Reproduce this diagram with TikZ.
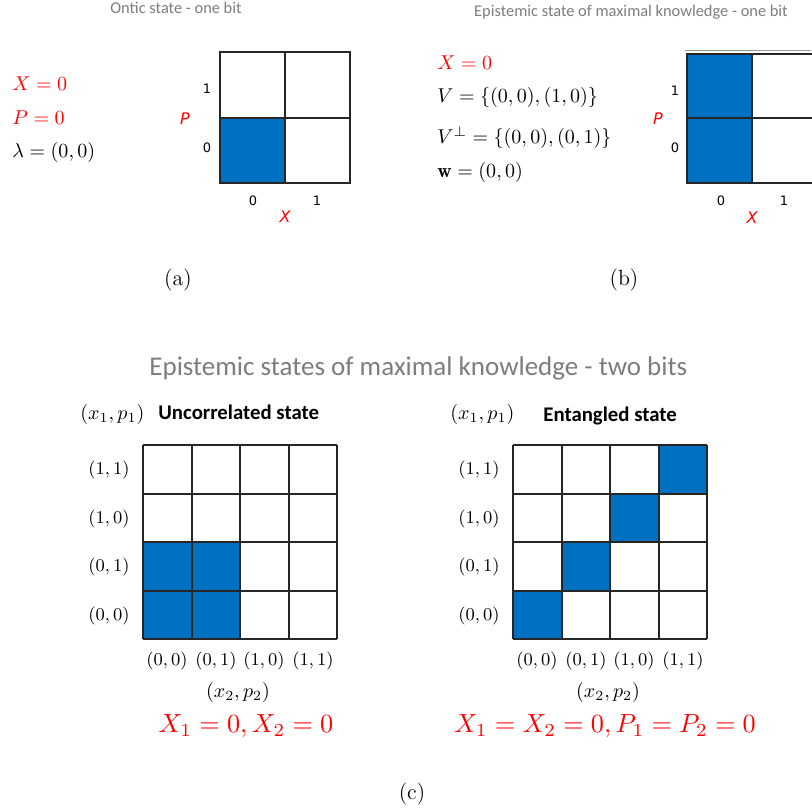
\documentclass[tikz,border=0pt]{standalone}
\usepackage{graphicx}
\usepackage{fontspec}
\newfontfamily\carlito{Carlito}
\newfontfamily\dejavu{DejaVu Sans}
\definecolor{cblue}{RGB}{0,112,192}
\definecolor{cred}{RGB}{255,0,0}
\definecolor{tgrey}{RGB}{125,125,125}
\newcommand{\bigmath}[1]{\scalebox{1.31}{$#1$}}
\tikzset{
  title/.style={font=\carlito\fontsize{8.2}{10}\selectfont, text=tgrey, anchor=base, inner sep=0pt},
  bigtitle/.style={font=\carlito\fontsize{13.5}{16}\selectfont, text=tgrey, anchor=base west, inner sep=0pt},
  sub/.style={font=\carlito\bfseries\fontsize{10.4}{12}\selectfont, anchor=base west, inner sep=0pt},
  redmath/.style={text=cred, anchor=west, inner sep=0pt},
  blkmath/.style={anchor=west, inner sep=0pt},
  dig/.style={font=\dejavu\fontsize{6.5}{7.5}\selectfont, inner sep=0pt},
  axis/.style={font=\dejavu\itshape\fontsize{8}{9}\selectfont, text=cred, inner sep=0pt},
  cellfill/.style={fill=cblue},
  gridline/.style={line width=0.8pt, draw=black!85},
  gridlineb/.style={line width=1pt, draw=black!85},
  lab/.style={font=\fontsize{9}{10}\selectfont, inner sep=0pt},
  captext/.style={font=\fontsize{11}{13}\selectfont, inner sep=0pt},
  bigred/.style={text=cred, inner sep=0pt}
}
\begin{document}
\begin{tikzpicture}[x=0.5pt,y=-0.5pt]
\useasboundingbox (0,0) rectangle (811,812);

% ---------- (a) ----------
\node[title] (ta) at (176,13.5) {Ontic state - one bit};
\node[redmath] (ax) at (12,84) {$X=0$};
\node[redmath] (ap) at (12,118) {$P=0$};
\node[blkmath] (al) at (12,153) {$\lambda=(0,0)$};
\fill[cellfill] (220,118) rectangle (285,183);
\draw[gridline] (220,52) rectangle (350,183);
\draw[gridline] (285,52) -- (285,183);
\draw[gridline] (220,118) -- (350,118);
\node[dig] (a1) at (207,89) {1};
\node[dig] (a0) at (207,148) {0};
\node[axis] (aP) at (185,119) {P};
\node[dig] (ac0) at (253,201) {0};
\node[dig] (ac1) at (317,201) {1};
\node[axis] (aX) at (285,217) {X};
\node[captext] (capa) at (178,280) {(a)};

% ---------- (b) ----------
\node[title] (tb) at (631,16.7) {Epistemic state of maximal knowledge - one bit};
\node[redmath] (bx) at (437,63) {$X=0$};
\node[blkmath] (bv) at (437,98) {$V=\{(0,0),(1,0)\}$};
\node[blkmath] (bvp) at (437,138) {$V^{\perp}=\{(0,0),(0,1)\}$};
\node[blkmath] (bw) at (437,173) {$\mathbf{w}=(0,0)$};
\fill[cellfill] (687,54) rectangle (752,183);
\draw[line width=0.6pt, draw=black!40] (685,50.5) -- (811,50.5);
\draw[gridline] (820,54) -- (687,54) -- (687,183) -- (820,183);
\draw[gridline] (752,54) -- (752,183);
\draw[gridline] (687,118) -- (820,118);
\node[dig] (b1) at (675,91) {1};
\node[dig] (b0) at (675,148) {0};
\node[axis] (bP) at (658,119) {P};
\node[dig] (bc0) at (721,201) {0};
\node[dig] (bc1) at (784,201) {1};
\node[axis] (bX) at (752,218) {X};
\node[captext] (capb) at (624,280) {(b)};

% ---------- (c) ----------
\node[bigtitle] (tc) at (149,375) {Epistemic states of maximal knowledge - two bits};

% left grid
\node[anchor=base west, inner sep=0pt] (lx1) at (80,419) {$(x_1,p_1)$};
\node[sub] (lsub) at (158,419) {Uncorrelated state};
\fill[cellfill] (143,542) rectangle (240,639);
\foreach \i in {0,...,4} {
  \draw[gridlineb] ({143+48.5*\i},445) -- ({143+48.5*\i},639);
  \draw[gridlineb] (143,{445+48.5*\i}) -- (337,{445+48.5*\i});
}
\node[lab] (lr11) at (109,470) {$(1,1)$};
\node[lab] (lr10) at (109,519) {$(1,0)$};
\node[lab] (lr01) at (109,567) {$(0,1)$};
\node[lab] (lr00) at (109,616) {$(0,0)$};
\node[lab] (lc00) at (167,661) {$(0,0)$};
\node[lab] (lc01) at (216,661) {$(0,1)$};
\node[lab] (lc10) at (264,661) {$(1,0)$};
\node[lab] (lc11) at (313,661) {$(1,1)$};
\node[inner sep=0pt] (lx2) at (238,692) {$(x_2,p_2)$};
\node[bigred] (lres) at (246,726) {\bigmath{X_1=0,X_2=0}};

% right grid
\node[anchor=base west, inner sep=0pt] (rx1) at (450,419) {$(x_1,p_1)$};
\node[sub] (rsub) at (543,421) {Entangled state};
\fill[cellfill] (513,590.5) rectangle (561.5,639);
\fill[cellfill] (561.5,542) rectangle (610,590.5);
\fill[cellfill] (610,493.5) rectangle (658.5,542);
\fill[cellfill] (658.5,445) rectangle (707,493.5);
\foreach \i in {0,...,4} {
  \draw[gridlineb] ({513+48.5*\i},445) -- ({513+48.5*\i},639);
  \draw[gridlineb] (513,{445+48.5*\i}) -- (707,{445+48.5*\i});
}
\node[lab] (rr11) at (479,470) {$(1,1)$};
\node[lab] (rr10) at (479,519) {$(1,0)$};
\node[lab] (rr01) at (479,567) {$(0,1)$};
\node[lab] (rr00) at (479,616) {$(0,0)$};
\node[lab] (rc00) at (537,661) {$(0,0)$};
\node[lab] (rc01) at (586,661) {$(0,1)$};
\node[lab] (rc10) at (634,661) {$(1,0)$};
\node[lab] (rc11) at (683,661) {$(1,1)$};
\node[inner sep=0pt] (rx2) at (608,692) {$(x_2,p_2)$};
\node[bigred] (rres) at (605,726) {\bigmath{X_1=X_2=0,P_1=P_2=0}};

\node[captext] (capc) at (412,794) {(c)};
\end{tikzpicture}
\end{document}
